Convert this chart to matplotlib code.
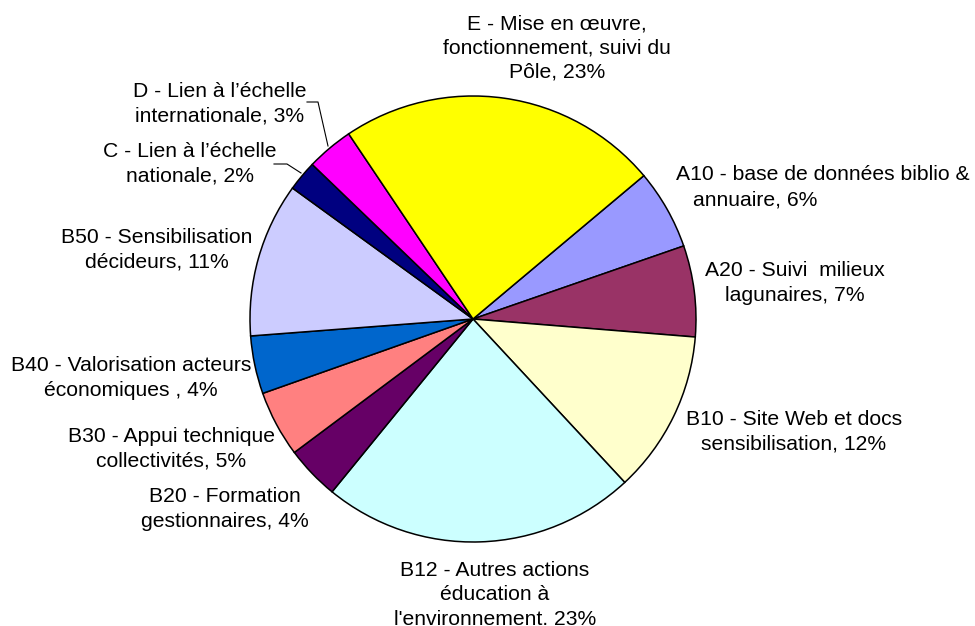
import matplotlib
matplotlib.use("Agg")
import matplotlib.pyplot as plt

categories = ["A10", "A20", "B10", "B12", "B20", "B30", "B40", "B50", "C", "D", "E"]
values = [5.8, 6.6, 11.8, 22.8, 3.9, 4.8, 4.2, 11.2, 2.2, 3.4, 23.3]
colors = ["#9999FF", "#993366", "#FFFFCC", "#CCFFFF", "#660066", "#FF8080",
          "#0066CC", "#CCCCFF", "#000080", "#FF00FF", "#FFFF00"]
label_texts = {
    "E": "E - Mise en œuvre,\nfonctionnement, suivi du\nPôle, 23%",
    "A20": "A20 - Suivi  milieux\nlagunaires, 7%",
    "B10": "B10 - Site Web et docs\nsensibilisation, 12%",
    "B12": "B12 - Autres actions\néducation à\nl'environnement. 23%",
    "B20": "B20 - Formation\ngestionnaires, 4%",
    "B30": "B30 - Appui technique\ncollectivités, 5%",
    "B40": "B40 - Valorisation acteurs\néconomiques , 4%",
    "B50": "B50 - Sensibilisation\ndécideurs, 11%",
    "C": "C - Lien à l’échelle\nnationale, 2%",
    "D": "D - Lien à l’échelle\ninternationale, 3%",
}

W, H = 975, 626
fig = plt.figure(figsize=(W / 100, H / 100), dpi=100)
ax = fig.add_axes([0, 0, 1, 1])

def Y(py):
    return H - py

ax.pie(values, colors=colors, startangle=40, counterclock=False,
       center=(473, Y(319)), radius=223, frame=True,
       wedgeprops=dict(edgecolor="black", linewidth=1.1))
ax.set_xlim(0, W)
ax.set_ylim(0, H)
ax.set_aspect("equal")
ax.axis("off")

font = dict(family=["Liberation Sans", "DejaVu Sans"], fontsize=15.2, color="black",
            linespacing=1.34)

# label positions (pixel coords: center x, center y of the block)
pos = {
    "E": (557, 48),
    "A20": (795, 283),
    "B10": (794, 432),
    "B12": (495, 595),
    "B20": (225, 509),
    "B30": (171, 449),
    "B40": (131, 378),
    "B50": (157, 250),
    "C": (190, 164),
    "D": (220, 104),
}
for k, (px, py) in pos.items():
    ax.text(px, Y(py), label_texts[k], ha="center", va="center", **font)

# A10 label (two lines not centred on each other)
ax.text(823, Y(175), "A10 - base de données biblio &", ha="center", va="center", **font)
ax.text(755, Y(200), "annuaire, 6%", ha="center", va="center", **font)

# leader lines
ax.plot([307, 318, 328], [Y(102), Y(102), Y(146)], color="black", lw=0.8)
ax.plot([274, 287, 301], [Y(164), Y(164), Y(173)], color="black", lw=0.8)

fig.savefig("out.png", dpi=100)
